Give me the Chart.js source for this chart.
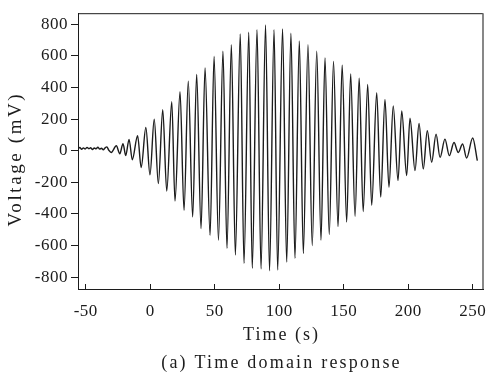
<!DOCTYPE html>
<html>
<head>
<meta charset="utf-8">
<script src="https://cdn.jsdelivr.net/npm/chart.js@4.4.1/dist/chart.umd.min.js"></script>
<style>
  html, body { margin: 0; padding: 0; background: #fff; }
</style>
</head>
<body>
<canvas id="chart" width="491" height="374"></canvas>
<script>
const TIME = [
  -56, -54.6, -53.2, -51.8, -50.4, -49, -47.6, -46.2, -44.8, -43.4, -42, -40.6,
  -39.2, -37.8, -36.4, -35, -33.6, -32.2,
  -30.2, -26.3, -23.6, -21.1, -19.0, -16.4, -13.9, -9.8, -7.0, -3.4,
  -0.2, 3.1, 6.3, 9.7, 12.8, 16.7, 19.2, 23.1, 26.2, 29.5, 32.9, 36.0,
  39.4, 42.5, 46.4, 49.5, 52.9, 56.4, 59.5, 62.9, 66.0, 69.8, 72.7, 76.4,
  79.1, 82.8, 85.9, 89.4, 92.5, 96.0, 98.8, 102.6, 105.8, 109.1, 112.2, 115.6,
  118.7, 122.3, 125.6, 129.1, 132.4, 135.5, 138.8, 142.1, 145.6, 148.8, 152.3, 155.4,
  158.8, 162.0, 165.1, 168.6, 171.7, 175.6, 178.7, 182.0, 185.1, 188.4, 192.1, 195.0,
  198.8, 201.4, 205.3, 208.4, 211.7, 214.8, 218.2, 221.6, 224.7, 228.5, 231.9, 235.5,
  238.8, 242.2, 245.3, 250.0, 253.6
];
const VOLTAGE = [
  12, 20, 9, 18, 11, 21, 13, 19, 8, 17, 12, 22,
  10, 16, 6, 18, 24, 4,
  -11, 31, -19, 44, -31, 72, -57, 95, -106, 147,
  -152, 199, -208, 259, -255, 310, -319, 373, -377, 440, -419, 482,
  -493, 524, -535, 597, -566, 629, -618, 671, -660, 738, -713, 750,
  -744, 765, -748, 795, -760, 765, -755, 770, -705, 744, -681, 695,
  -650, 671, -600, 629, -566, 587, -530, 564, -480, 541, -451, 486,
  -415, 459, -385, 419, -346, 367, -294, 325, -231, 283, -189, 252,
  -157, 205, -126, 172, -115, 126, -73, 105, -42, 73, -31, 52,
  -11, 42, -46, 80, -63
];
const X_TICKS = [-50, 0, 50, 100, 150, 200, 250];
const Y_TICKS = [-800, -600, -400, -200, 0, 200, 400, 600, 800];

const FONT = "'Liberation Serif', 'Times New Roman', serif";
const INK = '#1c1c1c';

// box round the plot, spaced-out axis titles and the caption
const framePlugin = {
  id: 'frame',
  beforeDraw(chart) {
    chart.ctx.letterSpacing = '0.5px';
  },
  afterDraw(chart) {
    const { ctx, chartArea: a } = chart;
    const midX = (a.left + a.right) / 2;
    ctx.save();
    ctx.lineWidth = 1;
    ctx.strokeStyle = INK;
    ctx.beginPath();
    ctx.moveTo(a.left, a.top + 0.5);
    ctx.lineTo(a.right, a.top + 0.5);
    ctx.stroke();
    ctx.strokeStyle = '#6a6a6a';
    ctx.lineWidth = 1.6;
    ctx.beginPath();
    ctx.moveTo(a.right, a.top);
    ctx.lineTo(a.right, a.bottom);
    ctx.stroke();

    ctx.fillStyle = INK;
    ctx.font = `18px ${FONT}`;
    ctx.textAlign = 'center';
    ctx.textBaseline = 'middle';
    ctx.letterSpacing = '2px';
    ctx.fillText('Time (s)', midX + 1, 335);
    ctx.letterSpacing = '2.2px';
    ctx.fillText('(a) Time domain response', midX + 1, 363);

    ctx.translate(16, (a.top + a.bottom) / 2 + 8);
    ctx.rotate(-Math.PI / 2);
    ctx.font = `19px ${FONT}`;
    ctx.letterSpacing = '2.6px';
    ctx.fillText('Voltage (mV)', 0, 0);
    ctx.restore();
  }
};

new Chart(document.getElementById('chart'), {
  type: 'line',
  data: {
    datasets: [{
      data: TIME.map((t, i) => ({ x: t, y: VOLTAGE[i] })),
      borderColor: INK,
      borderWidth: 1.4,
      pointRadius: 0,
      cubicInterpolationMode: 'monotone',
      fill: false,
    }],
  },
  options: {
    responsive: false,
    animation: false,
    layout: { padding: { top: 12, right: 8, bottom: 28, left: 0 } },
    plugins: {
      legend: { display: false },
      tooltip: { enabled: false },
    },
    scales: {
      x: {
        type: 'linear',
        min: -56,
        max: 258,
        afterBuildTicks: (scale) => { scale.ticks = X_TICKS.map((v) => ({ value: v })); },
        afterFit: (scale) => {
          scale.height = 57;
          scale.paddingLeft = 0;
          scale.paddingRight = 0;
        },
        ticks: {
          color: INK,
          font: { family: FONT, size: 17 },
          padding: 17,
          maxRotation: 0,
        },
        grid: {
          drawOnChartArea: false,
          drawTicks: true,
          tickLength: -5,
          color: INK,
        },
        border: { color: INK, width: 1 },
      },
      y: {
        min: -875,
        max: 870,
        afterBuildTicks: (scale) => { scale.ticks = Y_TICKS.map((v) => ({ value: v })); },
        afterFit: (scale) => { scale.width = 78; },
        ticks: {
          color: INK,
          font: { family: FONT, size: 17 },
          padding: 3,
        },
        grid: {
          drawOnChartArea: false,
          drawTicks: true,
          tickLength: 7,
          color: INK,
        },
        border: { color: INK, width: 1 },
      },
    },
  },
  plugins: [framePlugin],
});
</script>
</body>
</html>
